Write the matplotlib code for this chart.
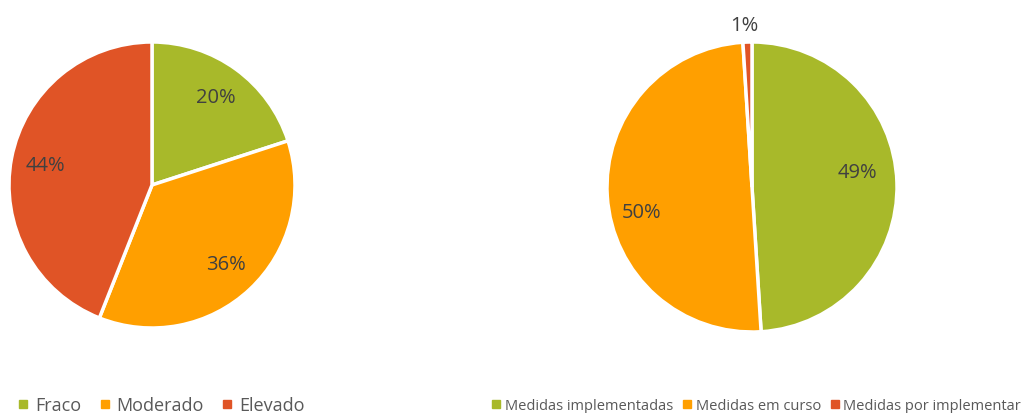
import matplotlib.pyplot as plt
import numpy as np
from matplotlib.lines import Line2D

plt.rcParams['font.family'] = ['Open Sans', 'DejaVu Sans']

risk_labels = ['Fraco', 'Moderado', 'Elevado']
risk_values = [20, 36, 44]

measure_labels = ['Medidas implementadas', 'Medidas em curso', 'Medidas por implementar']
measure_values = [49, 50, 1]

colors = ['#A8B92A', '#FF9F00', '#E05426']
text_color = '#404040'
pct_size = 14.5

W, H = 1027, 414
fig = plt.figure(figsize=(W / 100, H / 100), dpi=100)


def pie_axes(cx, cy, r):
    return fig.add_axes([(cx - r) / W, (H - cy - r) / H, 2 * r / W, 2 * r / H])


def draw_pie(ax, values):
    ax.pie(values, colors=colors, startangle=90, counterclock=False,
           wedgeprops=dict(edgecolor='white', linewidth=2.5))
    ax.set_xlim(-1, 1)
    ax.set_ylim(-1, 1)
    ax.set_aspect('equal')
    ax.axis('off')


def pct(ax, x, y, v):
    ax.text(x, y, f'{v}%', ha='center', va='center', fontsize=pct_size, color=text_color)


ax1 = pie_axes(152, 186, 143)
draw_pie(ax1, risk_values)
# labels at the middle of each wedge
cum = 0
for v in risk_values:
    mid = np.radians(90 - (cum + v / 2) / sum(risk_values) * 360)
    cum += v
    pct(ax1, 0.76 * np.cos(mid), 0.76 * np.sin(mid), v)

ax2 = pie_axes(752, 188, 145)
draw_pie(ax2, measure_values)
pct(ax2, 0.73, 0.1, measure_values[0])
pct(ax2, -0.76, -0.17, measure_values[1])
pct(ax2, -0.05, 1.12, measure_values[2])


def handles(labels):
    return [Line2D([], [], marker='s', linestyle='none', color=c, markersize=6)
            for c, _ in zip(colors, labels)]


fig.legend(handles(risk_labels), risk_labels, loc='center left',
           bbox_to_anchor=(9 / W, 1 - 406 / H), ncol=3, frameon=False,
           fontsize=13, labelcolor='#595959', handlelength=0.6,
           handletextpad=0.35, columnspacing=1.0, borderpad=0)

fig.legend(handles(measure_labels), measure_labels, loc='center left',
           bbox_to_anchor=(485 / W, 1 - 407 / H), ncol=3, frameon=False,
           fontsize=10.5, labelcolor='#595959', handlelength=0.5,
           handletextpad=0.35, columnspacing=0.7, borderpad=0)

fig.savefig('out.png', dpi=100)
